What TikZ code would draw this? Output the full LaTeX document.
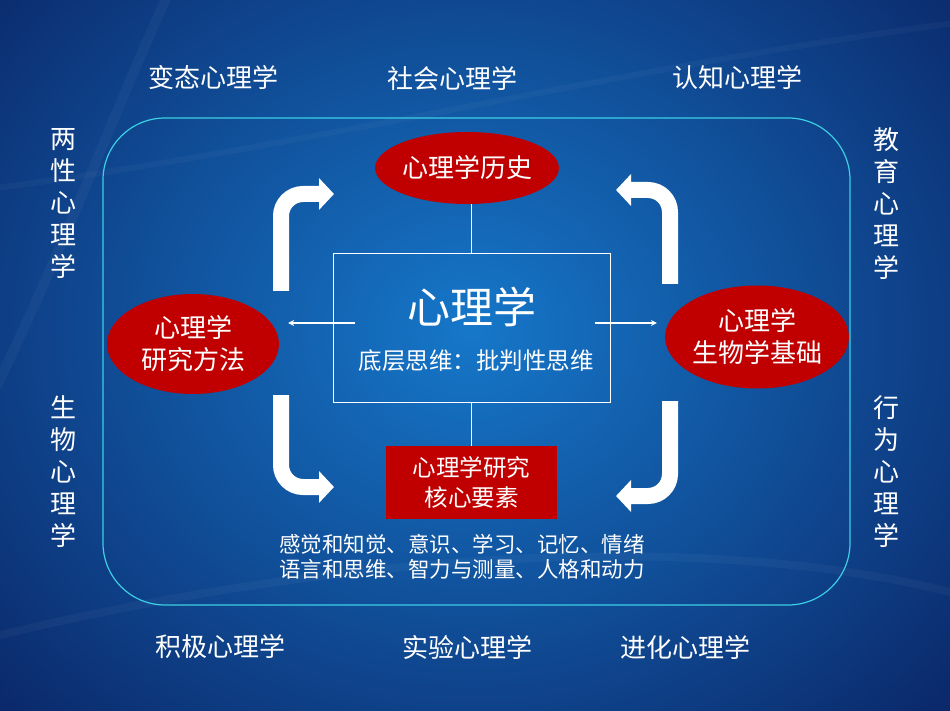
\documentclass[tikz,border=0pt]{standalone}
\usepackage{fontspec}
\setmainfont{Noto Sans CJK SC}
\usetikzlibrary{arrows.meta,positioning,shapes.geometric,calc}
\definecolor{bgmid}{HTML}{1677C9}
\definecolor{bgdark}{HTML}{0A2263}
\definecolor{framecyan}{HTML}{3CCFE6}
\definecolor{ovalred}{HTML}{C00000}
\tikzset{
  redoval/.style={ellipse,fill=ovalred,text=white,align=center,inner sep=0pt,
                  font=\fontsize{26}{32}\selectfont},
  redbox/.style={rectangle,fill=ovalred,text=white,align=center,
                 minimum width=171pt,minimum height=73pt,inner sep=0pt,
                 font=\fontsize{23.5}{30}\selectfont},
  corebox/.style={rectangle,draw=white,line width=0.9pt,
                  minimum width=277pt,minimum height=149pt,inner sep=0pt},
  fieldlabel/.style={text=white,inner sep=0pt,font=\fontsize{26}{32}\selectfont},
  vlabel/.style={fieldlabel,align=center},
  thinline/.style={draw=white,line width=1.6pt},
  thinarr/.style={thinline,-{Stealth[length=6pt,width=6pt]}},
  bigarr/.style={draw=white,line width=16pt,rounded corners=22pt,
                 -{Triangle[length=15pt,width=31pt]}}
}

\begin{document}
\begin{tikzpicture}[x=1pt,y=-1pt]
    \useasboundingbox (0,0) rectangle (950,711);
    \clip (0,0) rectangle (950,711);
    \shade[inner color=bgmid,outer color=bgdark] (-230,-270) rectangle (1170,930);
    % faint swooshes
    \draw[white,opacity=0.035,line width=10pt] (170,-10) .. controls (110,120) and (60,260) .. (-20,420);
    \draw[white,opacity=0.03,line width=6pt] (-20,190) .. controls (300,150) and (650,60) .. (980,20);
    \draw[white,opacity=0.035,line width=8pt] (-20,640) .. controls (300,560) and (700,520) .. (980,600);

    \draw[framecyan,line width=1.2pt,rounded corners=62pt] (103,118) rectangle (850,605);

    \node[corebox] (core) at (471.5,327.5) {};
    \node[text=white,font=\fontsize{43}{50}\selectfont] (title) at (472,307) {心理学};
    \node[text=white,font=\fontsize{23.5}{28}\selectfont] (basis) at (476,361) {底层思维：批判性思维};

    \node[redoval,minimum width=180pt,minimum height=72pt] (history) at (467,168) {心理学历史};
    \node[redoval,minimum width=172pt,minimum height=100pt] (method) at (193,344) {心理学\\研究方法};
    \node[redoval,minimum width=175pt,minimum height=103pt] (bio) at (757,337) {心理学\\生物学基础};
    \node[redbox] (core2) at (471.5,482.5) {心理学研究\\核心要素};
    \node[text=white,align=center,font=\fontsize{21.5}{25}\selectfont] (topics) at (462,557)
      {感觉和知觉、意识、学习、记忆、情绪\\语言和思维、智力与测量、人格和动力};

    \draw[thinline] (core.north |- history.south) -- (core.north);
    \draw[thinline] (core.south) -- (core2.north);
    \draw[thinarr] ([xshift=22pt,yshift=4.5pt]core.west) -- ($(method.east)+(9,-21)$);
    \draw[thinarr] ([xshift=-15pt,yshift=4.5pt]core.east) -- ($(bio.west)+(-8,-14)$);

    % bent arrows
    \coordinate (tlA) at (281,291);
    \coordinate (tlB) at (281,194);
    \coordinate (tlC) at (334,194);
    \coordinate (trA) at (670,284);
    \coordinate (trB) at (670,190);
    \coordinate (trC) at (616,190);
    \coordinate (blA) at (281,395);
    \coordinate (blB) at (281,487);
    \coordinate (blC) at (334,487);
    \coordinate (brA) at (670,401);
    \coordinate (brB) at (670,496);
    \coordinate (brC) at (616,496);
    \draw[bigarr] (tlA) -- (tlB) -- (tlC);
    \draw[bigarr] (trA) -- (trB) -- (trC);
    \draw[bigarr] (blA) -- (blB) -- (blC);
    \draw[bigarr] (brA) -- (brB) -- (brC);

    \node[fieldlabel] (abnormal) at (213,78) {变态心理学};
    \node[fieldlabel] (social) at (452,78) {社会心理学};
    \node[fieldlabel] (cognitive) at (737,78) {认知心理学};
    \node[fieldlabel] (positive) at (220,647) {积极心理学};
    \node[fieldlabel] (experiment) at (467,647) {实验心理学};
    \node[fieldlabel] (evolution) at (685,647) {进化心理学};
    \node[vlabel] (gender) at (63,204) {两\\性\\心\\理\\学};
    \node[vlabel] (biological) at (63,472) {生\\物\\心\\理\\学};
    \node[vlabel] (education) at (886,204) {教\\育\\心\\理\\学};
    \node[vlabel] (behavior) at (886,472) {行\\为\\心\\理\\学};
\end{tikzpicture}
\end{document}
